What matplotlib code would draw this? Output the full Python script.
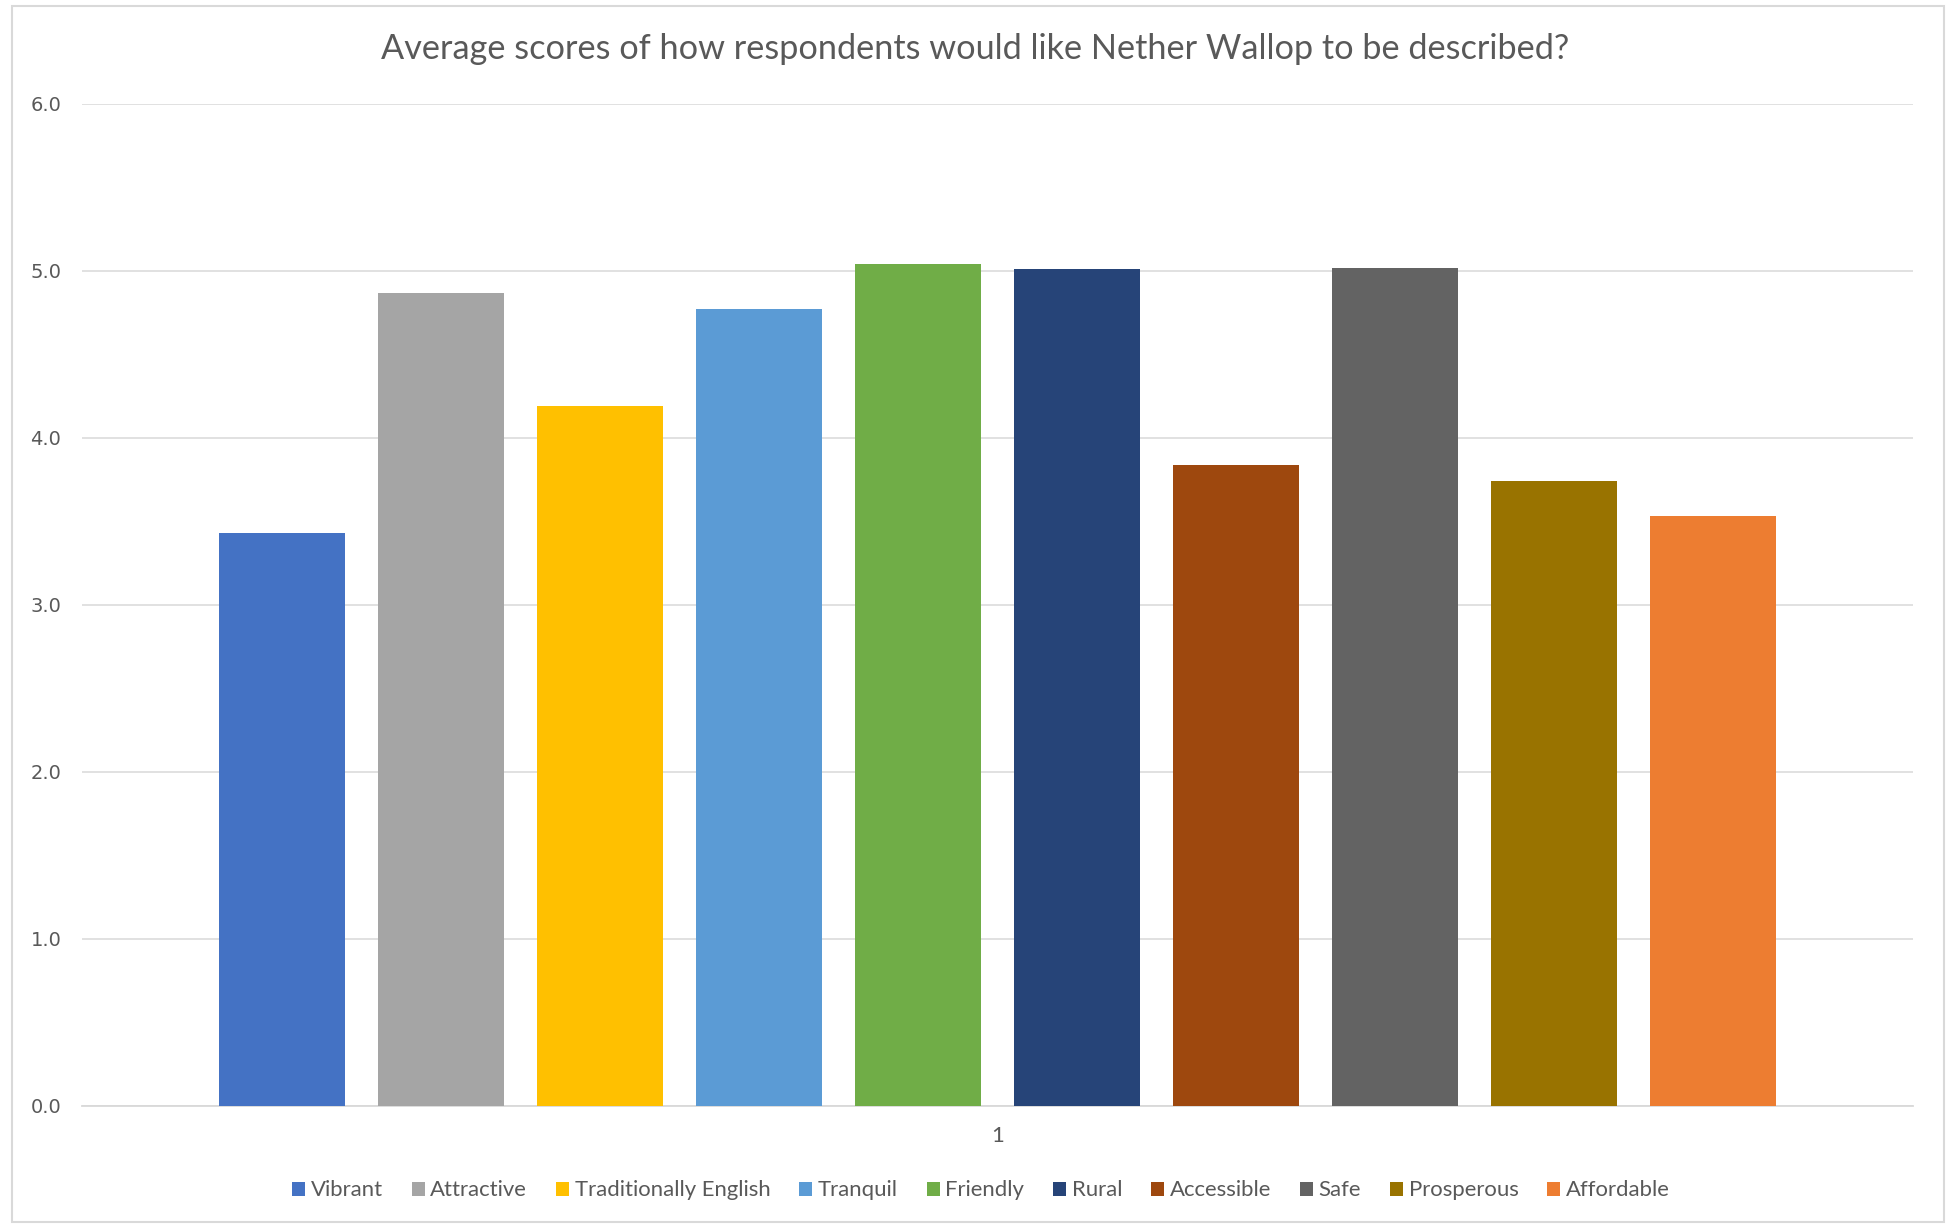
import matplotlib
matplotlib.use("Agg")
import matplotlib.pyplot as plt
from matplotlib.patches import Rectangle

# --- data ---
categories = ["Vibrant", "Attractive", "Traditionally English", "Tranquil", "Friendly",
              "Rural", "Accessible", "Safe", "Prosperous", "Affordable"]
scores = [3.43, 4.87, 4.19, 4.77, 5.04, 5.01, 3.84, 5.02, 3.74, 3.53]
colors = ["#4472C4", "#A5A5A5", "#FFC000", "#5B9BD5", "#70AD47",
          "#264478", "#9E480E", "#636363", "#997300", "#ED7D31"]
y_ticks = [0, 1, 2, 3, 4, 5, 6]
title = "Average scores of how respondents would like Nether Wallop to be described?"

text_grey = "#595959"
grid_grey = "#D9D9D9"

fig = plt.figure(figsize=(19.5, 12.26), dpi=100)
ax = fig.add_axes([0.0421, 0.0982, 0.9389, 0.817])

# one bar per category so each gets its own legend entry
for i, (name, val, col) in enumerate(zip(categories, scores, colors)):
    ax.bar(i, val, width=0.79, color=col, label=name, zorder=3)

ax.set_xlim(-1.257, 10.257)
ax.set_ylim(0, 6)
ax.set_yticks(y_ticks)
ax.set_yticklabels([f"{t:.1f}" for t in y_ticks], fontsize=14, color=text_grey,
                   family="DejaVu Sans")
ax.set_xticks([4.5])
ax.set_xticklabels(["1"], fontsize=16, color=text_grey, family="Lato")
ax.tick_params(axis="both", length=0)
ax.tick_params(axis="y", pad=15)
ax.tick_params(axis="x", pad=15)

ax.grid(True, axis="y", color=grid_grey, linewidth=1.1, zorder=0)
for side in ["top", "right", "left"]:
    ax.spines[side].set_visible(False)
ax.spines["bottom"].set_color(grid_grey)
ax.spines["bottom"].set_linewidth(1.3)

fig.text(0.5, 0.96, title, ha="center", va="center", fontsize=24.7, color=text_grey,
         family="Lato")

leg = fig.legend(loc="center", bbox_to_anchor=(0.503, 0.029), ncol=10, frameon=False,
                 handlelength=0.6, handleheight=0.6, handletextpad=0.25,
                 columnspacing=1.3, prop={"family": "Lato", "size": 15.9})
for t in leg.get_texts():
    t.set_color(text_grey)

# light frame round the whole chart, like the Excel chart area
fig.patches.append(Rectangle((0.006, 0.003), 0.991, 0.992, transform=fig.transFigure,
                             fill=False, edgecolor=grid_grey, linewidth=1.5))

fig.savefig("out.png", dpi=100)
